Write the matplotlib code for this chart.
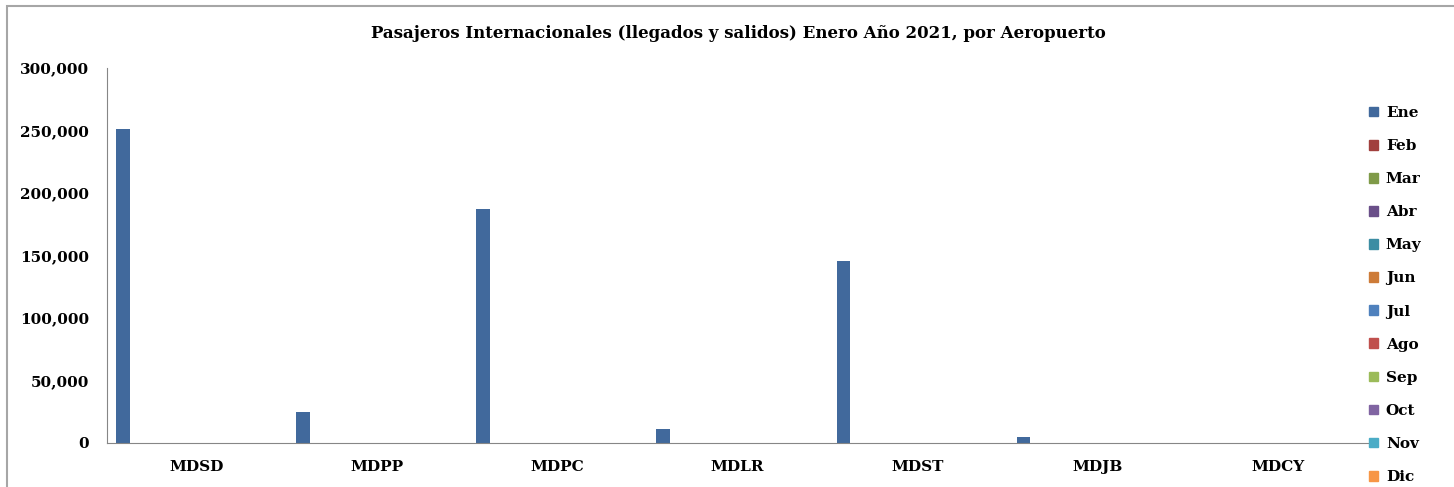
import numpy as np
import matplotlib
matplotlib.use("Agg")
import matplotlib.pyplot as plt
from matplotlib.patches import Patch, Rectangle

# airports and monthly values (only January has data)
airports = ["MDSD", "MDPP", "MDPC", "MDLR", "MDST", "MDJB", "MDCY"]
months = ["Ene", "Feb", "Mar", "Abr", "May", "Jun",
          "Jul", "Ago", "Sep", "Oct", "Nov", "Dic"]
ene = [251000, 25000, 187500, 11000, 145500, 4800, 0]
month_colors = ["#41699C", "#A13F3D", "#7F9A48", "#6A4F89", "#3C8DA3", "#CD7B38",
                "#4F81BD", "#C0504D", "#9BBB59", "#8064A2", "#4BACC6", "#F79646"]

values = {m: [0] * len(airports) for m in months}
values["Ene"] = ene

plt.rcParams['font.family'] = ['DejaVu Serif']
plt.rcParams['font.weight'] = 'bold'

fig = plt.figure(figsize=(14.54, 4.87), dpi=100)
W, H = 1454, 487
ax = fig.add_axes([107 / W, 1 - 443 / H, (1368 - 107) / W, (443 - 68) / H])

# chart border (left and top visible)
fig.patches.append(Rectangle((7 / W, -0.1), 1.2, (1 - 6 / H) + 0.1, transform=fig.transFigure,
                             fill=False, edgecolor="#A6A6A6", linewidth=1.5))

x = np.arange(len(airports))
bw = 0.075
start = -0.5 + 0.05
for i, m in enumerate(months):
    ax.bar(x + start + bw * i + bw / 2, values[m], width=bw, color=month_colors[i], label=m)

ax.set_xlim(-0.5, len(airports) - 0.5)
ax.set_ylim(0, 300000)
ax.set_yticks(np.arange(0, 300001, 50000))
ax.yaxis.set_major_formatter(matplotlib.ticker.FuncFormatter(lambda v, p: f"{int(v):,}"))
ax.set_xticks(x)
ax.set_xticklabels(airports)
ax.tick_params(axis="both", length=0, labelsize=11)
ax.tick_params(axis="y", pad=13)
ax.tick_params(axis="x", pad=12)

for s in ["top", "right"]:
    ax.spines[s].set_visible(False)
ax.spines["left"].set_color("#868686")
ax.spines["bottom"].set_color("#868686")

fig.text(738 / W, 1 - 34 / H, "Pasajeros Internacionales (llegados y salidos) Enero Año 2021, por Aeropuerto",
         ha="center", va="center", fontsize=12, fontweight="bold")

handles = [Patch(color=c, label=m) for c, m in zip(month_colors, months)]
fig.legend(handles=handles, loc="upper left", bbox_to_anchor=(1369 / W, 1 - 106 / H),
           frameon=False, fontsize=11, handlelength=0.6, handleheight=0.6,
           handletextpad=0.5, labelspacing=1.25, borderaxespad=0, borderpad=0)

fig.savefig("out.png", dpi=100)
